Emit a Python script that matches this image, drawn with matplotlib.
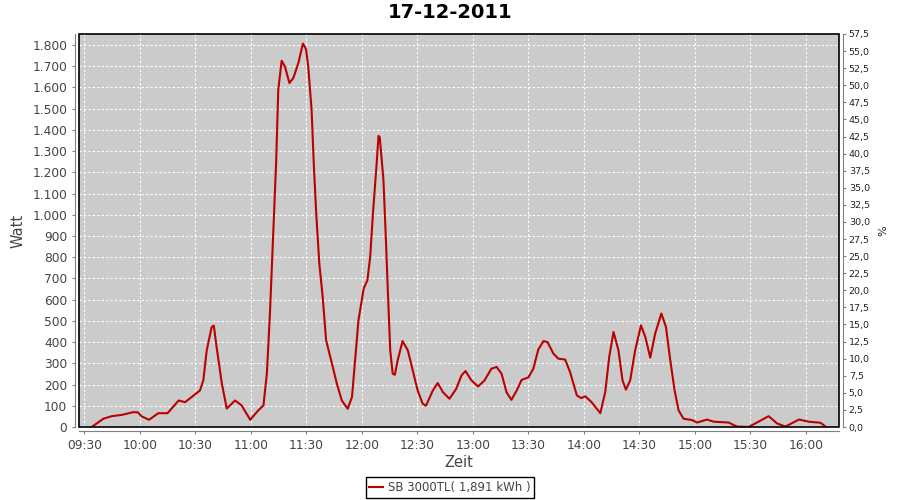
import pandas as pd
import matplotlib
matplotlib.use("Agg")
import matplotlib.pyplot as plt
import matplotlib.dates as mdates
from matplotlib.patches import Rectangle
from matplotlib.ticker import FuncFormatter, MultipleLocator

title = "17-12-2011"
series_name = "SB 3000TL( 1,891 kWh )"

times = [
    "09:34:00", "09:40:20", "09:44:50", "09:50:10", "09:56:30", "09:59:00",
    "10:01:00", "10:05:00", "10:10:00", "10:15:00", "10:21:00", "10:24:30",
    "10:28:00", "10:32:30", "10:34:20", "10:36:10", "10:38:50", "10:40:00",
    "10:41:30", "10:44:20", "10:47:00", "10:51:30", "10:55:00", "10:59:40",
    "11:04:00", "11:06:50", "11:08:40", "11:10:20", "11:12:10", "11:13:40",
    "11:14:50", "11:16:40", "11:18:30", "11:20:50", "11:23:00", "11:25:40",
    "11:28:10", "11:29:50", "11:31:00", "11:32:50", "11:34:00", "11:35:20",
    "11:37:00", "11:38:50", "11:40:40", "11:43:50", "11:46:30", "11:49:10",
    "11:52:20", "11:54:40", "11:56:30", "11:58:10", "12:01:00", "12:03:00",
    "12:04:30", "12:06:00", "12:08:00", "12:09:00", "12:09:40", "12:11:40",
    "12:13:00", "12:14:10", "12:15:20", "12:16:40", "12:17:50", "12:19:20",
    "12:22:00", "12:24:50", "12:27:30", "12:30:10", "12:32:50", "12:34:40",
    "12:38:20", "12:41:00", "12:43:50", "12:47:20", "12:51:00", "12:53:50",
    "12:56:00", "12:59:10", "13:02:50", "13:06:20", "13:10:00", "13:12:50",
    "13:15:30", "13:18:10", "13:20:50", "13:23:40", "13:26:20", "13:30:00",
    "13:32:40", "13:35:20", "13:38:10", "13:40:20", "13:43:30", "13:46:10",
    "13:49:50", "13:52:30", "13:56:10", "13:58:30", "14:00:40", "14:04:10",
    "14:08:50", "14:11:30", "14:13:40", "14:16:00", "14:18:40", "14:20:50",
    "14:22:40", "14:25:00", "14:27:40", "14:30:50", "14:33:10", "14:35:50",
    "14:38:30", "14:41:50", "14:44:20", "14:46:40", "14:49:00", "14:51:10",
    "14:53:50", "14:58:20", "15:01:10", "15:06:30", "15:10:10", "15:18:10",
    "15:22:40", "15:29:00", "15:34:20", "15:39:50", "15:44:20", "15:48:50",
    "15:56:10", "16:01:30", "16:07:50", "16:10:50",
]
watt = [
    0, 39, 51, 57, 70, 69,
    50, 34, 65, 65, 125, 117,
    141, 172, 220, 361, 471, 478,
    377, 205, 87, 125, 102, 34,
    78, 102, 251, 536, 928, 1243,
    1590, 1726, 1697, 1621, 1645, 1715,
    1807, 1780, 1700, 1495, 1243, 1007,
    771, 613, 409, 299, 204, 125,
    86, 141, 330, 503, 653, 692,
    802, 1007, 1243, 1372, 1365, 1164,
    881, 613, 361, 251, 246, 314,
    405, 361, 267, 172, 110, 100,
    172, 207, 164, 133, 180, 243,
    264, 220, 191, 220, 275, 283,
    251, 164, 128, 172, 222, 234,
    275, 365, 405, 400, 346, 322,
    318, 259, 149, 136, 145, 117,
    65, 164, 330, 448, 361, 220,
    176, 220, 361, 479, 424, 327,
    440, 535, 471, 314, 172, 78,
    39, 33, 21, 35, 25, 21,
    2, 0, 25, 51, 17, 2,
    35, 25, 20, 0,
]

t = pd.to_datetime(["2011-12-17 " + s for s in times])

fig = plt.figure(figsize=(9, 5), dpi=100)
ax = fig.add_axes([79 / 900, 73 / 500, 760 / 900, 393 / 500])
ax.set_facecolor("#cbcbcb")

ax.plot(t, watt, color="#bb0000", lw=1.5, label=series_name, zorder=3)

ax.set_xlim(pd.Timestamp("2011-12-17 09:27:09"), pd.Timestamp("2011-12-17 16:17:50"))
ax.set_ylim(0, 1852)
ax.xaxis.set_major_locator(mdates.MinuteLocator(byminute=[0, 30]))
ax.xaxis.set_major_formatter(mdates.DateFormatter("%H:%M"))
ax.yaxis.set_major_locator(MultipleLocator(100))
ax.yaxis.set_major_formatter(FuncFormatter(lambda v, p: f"{int(v):,}".replace(",", ".")))

ax.grid(True, color="white", ls=(0, (2, 2)), lw=0.8)
ax.set_axisbelow(True)

for side in ["top", "right"]:
    ax.spines[side].set_visible(False)
for side in ["left", "bottom"]:
    ax.spines[side].set_position(("outward", 3))
    ax.spines[side].set_color("#808080")
ax.tick_params(colors="#808080", labelcolor="#444444", length=2, width=0.8, labelsize=8.8)
ax.add_patch(Rectangle((0, 0), 1, 1, transform=ax.transAxes, fill=False,
                       ec="black", lw=1.2, clip_on=False, zorder=5))

ax.set_xlabel("Zeit", fontsize=10.5, color="#444444", labelpad=2)
ax.set_ylabel("Watt", fontsize=10.5, color="#444444", labelpad=5)

ax2 = ax.twinx()
ax2.set_ylim(0, 57.5)
ax2.yaxis.set_major_locator(MultipleLocator(2.5))
ax2.yaxis.set_major_formatter(FuncFormatter(lambda v, p: f"{v:.1f}".replace(".", ",")))
for side in ["top", "left", "bottom"]:
    ax2.spines[side].set_visible(False)
ax2.spines["right"].set_position(("outward", 3))
ax2.spines["right"].set_color("#808080")
ax2.tick_params(colors="#808080", labelcolor="#222222", length=2, width=0.8, labelsize=6.8, pad=2)
ax2.set_ylabel("%", fontsize=8, color="#222222", labelpad=6)

fig.suptitle(title, fontsize=14, fontweight="bold", y=0.993)

leg = fig.legend(loc="center", bbox_to_anchor=(0.5, 0.025), fontsize=8.5,
                 frameon=True, fancybox=False, framealpha=1, edgecolor="black",
                 handlelength=1.2, handletextpad=0.4, borderpad=0.3)
leg.get_frame().set_linewidth(1)
for txt in leg.get_texts():
    txt.set_color("#444444")

fig.savefig("out.png", dpi=100)
